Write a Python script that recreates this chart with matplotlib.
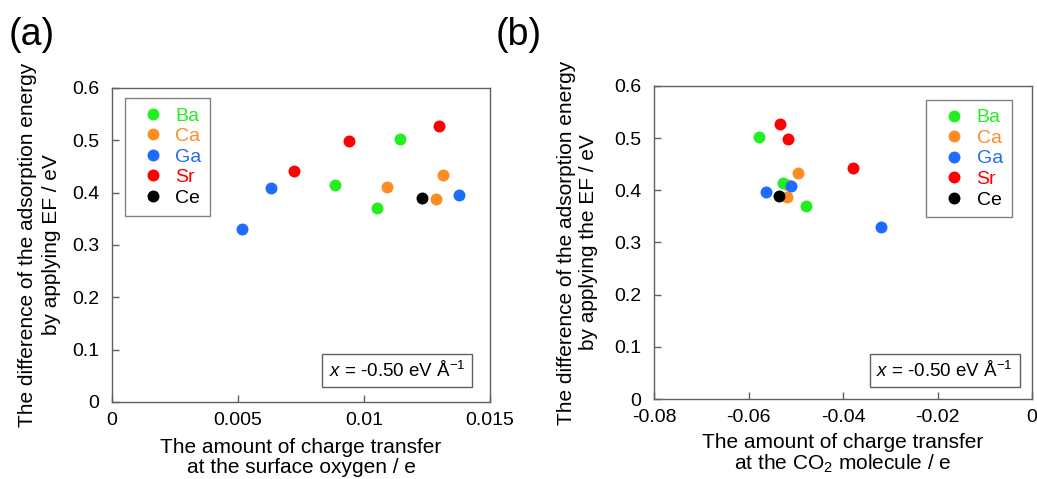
import matplotlib
matplotlib.use("Agg")
from matplotlib import pyplot as plt
from matplotlib.lines import Line2D

plt.rcParams['font.family'] = ['Liberation Sans', 'DejaVu Sans']
plt.rcParams['mathtext.fontset'] = 'custom'
plt.rcParams['mathtext.rm'] = 'Liberation Sans'
plt.rcParams['mathtext.it'] = 'Liberation Sans:italic'

# data
elements = ['Ba', 'Ca', 'Ga', 'Sr', 'Ce']
colors = ['#22ee22', '#ff8c22', '#1e6bff', '#ff0000', '#000000']

dE = {
	'Ba': [0.414, 0.370, 0.502],
	'Ca': [0.410, 0.388, 0.434],
	'Ga': [0.330, 0.408, 0.396],
	'Sr': [0.442, 0.499, 0.527],
	'Ce': [0.390],
}
q_oxygen = {
	'Ba': [0.00884, 0.01053, 0.01143],
	'Ca': [0.01092, 0.01287, 0.01313],
	'Ga': [0.00517, 0.00631, 0.01377],
	'Sr': [0.00721, 0.00942, 0.01296],
	'Ce': [0.0123],
}
q_co2 = {
	'Ba': [-0.0528, -0.0479, -0.0578],
	'Ca': [-0.0516, -0.0518, -0.0495],
	'Ga': [-0.0320, -0.0511, -0.0564],
	'Sr': [-0.0379, -0.0516, -0.0533],
	'Ce': [-0.0535],
}

draw_order = ['Ca', 'Ba', 'Ga', 'Sr', 'Ce']
spine_c = '#606060'
fs_tick = 14
fs_lab = 15

fig = plt.figure(figsize=(10.37, 4.79), dpi=100)
ax1 = fig.add_axes([0.108, 0.1608, 0.3645, 0.6555])
ax2 = fig.add_axes([0.6307, 0.167, 0.3645, 0.6535])

def style(ax):
	for s in ax.spines.values():
		s.set_color(spine_c)
		s.set_linewidth(1.0)
	ax.tick_params(direction='in', length=5, width=1, color=spine_c,
		labelsize=fs_tick, top=False, right=False)
	ax.tick_params(axis='y', pad=9)
	ax.tick_params(axis='x', pad=7)
	ax.set_ylim(0, 0.6)
	ax.set_yticks([0, 0.1, 0.2, 0.3, 0.4, 0.5, 0.6])
	ax.set_yticklabels(['0', '0.1', '0.2', '0.3', '0.4', '0.5', '0.6'])

def scatter(ax, xdata):
	for el in draw_order:
		c = colors[elements.index(el)]
		ax.plot(xdata[el], dE[el], 'o', color=c, markersize=8.6, markeredgewidth=0)
	handles = [Line2D([], [], marker='o', linestyle='none', color=c,
		markersize=8.6, markeredgewidth=0) for c in colors]
	return handles

def add_legend(ax, handles, loc, anchor):
	leg = ax.legend(handles, elements, loc=loc, bbox_to_anchor=anchor,
		fontsize=fs_tick, frameon=True, fancybox=False, edgecolor=spine_c,
		handletextpad=0.15, borderpad=0.45, labelspacing=0.15,
		handlelength=2.0, borderaxespad=0)
	leg.get_frame().set_linewidth(1.0)
	for t, c in zip(leg.get_texts(), colors):
		t.set_color(c)
	return leg

def add_note(ax, x, y):
	ax.text(x, y, r'$x$ = -0.50 eV Å$^{\mathregular{-1}}$',
		transform=ax.transAxes, ha='right', va='bottom', fontsize=13.5,
		bbox=dict(boxstyle='square,pad=0.35', fc='white', ec=spine_c, lw=1.0))

# (a)
style(ax1)
h = scatter(ax1, q_oxygen)
ax1.set_xlim(0, 0.015)
ax1.set_xticks([0, 0.005, 0.01, 0.015])
ax1.set_xticklabels(['0', '0.005', '0.01', '0.015'])
add_legend(ax1, h, 'upper left', (0.034, 0.967))
add_note(ax1, 0.935, 0.068)
ax1.set_xlabel('The amount of charge transfer\nat the surface oxygen / e',
	fontsize=fs_lab, labelpad=7, linespacing=1.05)
ax1.set_ylabel('The difference of the adsorption energy\nby applying EF / eV',
	fontsize=fs_lab, labelpad=8, linespacing=1.35)

# (b)
style(ax2)
h = scatter(ax2, q_co2)
ax2.set_xlim(-0.08, 0)
ax2.set_xticks([-0.08, -0.06, -0.04, -0.02, 0])
ax2.set_xticklabels(['-0.08', '-0.06', '-0.04', '-0.02', '0'])
add_legend(ax2, h, 'upper right', (0.946, 0.955))
add_note(ax2, 0.95, 0.058)
ax2.set_xlabel('The amount of charge transfer\nat the CO$_\\mathregular{2}$ molecule / e',
	fontsize=fs_lab, labelpad=5, linespacing=1.05)
ax2.set_ylabel('The difference of the adsorption energy\nby applying the EF / eV',
	fontsize=fs_lab, labelpad=12, linespacing=1.2)

fig.text(0.008, 0.965, '(a)', fontsize=27, va='top', ha='left')
fig.text(0.478, 0.965, '(b)', fontsize=27, va='top', ha='left')

fig.savefig('out.png', dpi=100)
